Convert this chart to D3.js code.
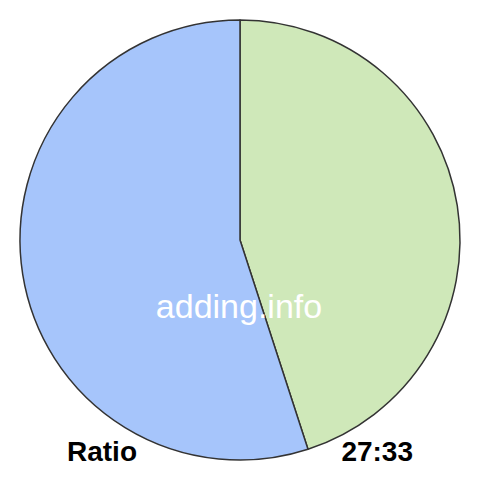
<!DOCTYPE html>
<html><head><meta charset="utf-8">
<script src="https://cdn.jsdelivr.net/npm/d3@7"></script>
<style>html,body{margin:0;padding:0;background:#fff;}</style>
</head><body>
<svg id="c" width="480" height="480"></svg>
<script>
const categories = ["27", "33"];
const values = [27, 33];
const colors = ["#cfe8b9", "#a6c5fb"];
const watermark = "adding.info";
const leftLabel = "Ratio";
const rightLabel = "27:33";

const svg = d3.select("#c");
const cx = 240, cy = 240, r = 220;
const pie = d3.pie().sort(null).value(d => d)(values);
const arc = d3.arc().innerRadius(0).outerRadius(r);
const g = svg.append("g").attr("transform", `translate(${cx},${cy})`);
g.selectAll("path").data(pie).join("path")
  .attr("d", arc)
  .attr("fill", (d, i) => colors[i])
  .attr("stroke", "#333")
  .attr("stroke-width", 1.5)
  .attr("stroke-linejoin", "round");

svg.append("text").attr("x", 239).attr("y", 318)
  .attr("text-anchor", "middle")
  .attr("font-family", "Liberation Sans, Arial, sans-serif")
  .attr("font-size", 34).attr("fill", "#fff").text(watermark);

svg.append("text").attr("x", 67).attr("y", 461)
  .attr("font-family", "Liberation Sans, Arial, sans-serif")
  .attr("font-weight", "bold").attr("font-size", 28).attr("fill", "#000").text(leftLabel);
svg.append("text").attr("x", 413).attr("y", 461).attr("text-anchor", "end")
  .attr("font-family", "Liberation Sans, Arial, sans-serif")
  .attr("font-weight", "bold").attr("font-size", 28).attr("fill", "#000").text(rightLabel);
</script>
</body></html>
